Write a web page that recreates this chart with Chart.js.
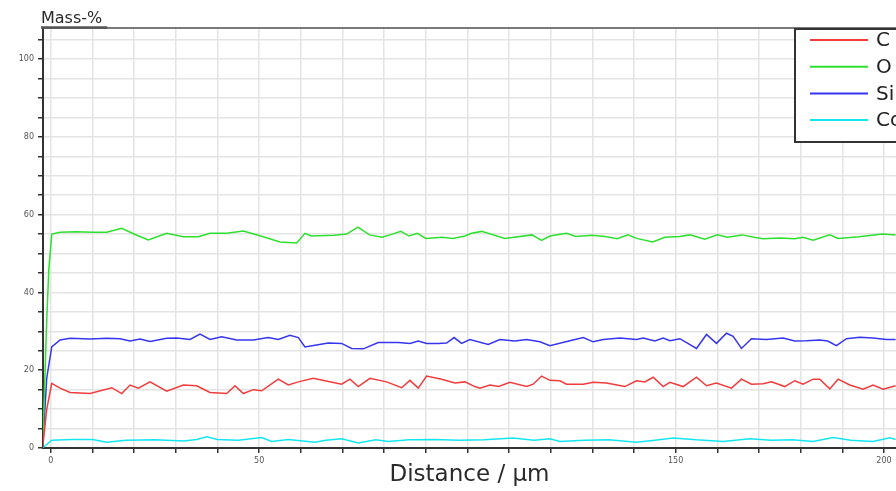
<!DOCTYPE html>
<html><head><meta charset="utf-8">
<script src="https://cdn.jsdelivr.net/npm/chart.js@4/dist/chart.umd.min.js"></script>
<style>html,body{margin:0;padding:0;background:#fff;overflow:hidden}#wrap{width:896px;height:491px}</style>
</head><body><div id="wrap"><canvas id="c" width="896" height="491"></canvas></div>
<script>
// ---- data ----
const seriesNames = ['C', 'O', 'Si', 'Co'];
const seriesColors = ['#f03c3c', '#2ee02e', '#3636ee', '#14e6f0'];
const yAxisTitle = 'Mass-%';
const xAxisTitle = 'Distance / µm';

const cDist = [-2,-1,0.2,2.2,4.6,9.4,14.6,17,19,21,23.8,27.8,31.8,35,38.2,42.2,44.2,46.2,48.6,50.6,54.6,57,59.4,63,65.8,69.8,71.8,73.8,76.6,80.6,84.2,86.2,88.2,90.2,93.8,97,99.4,101.8,103,105.4,107.5,110.2,114.2,115.8,117.8,119.8,122.2,123.8,127.8,130.2,133.4,137.8,140.6,142.6,144.6,147,148.6,151.8,155,157.4,159.8,163.4,165.8,168.2,171,173,176.2,178.6,180.6,183,184.6,187,189,191.8,195,197.4,199.8,202.8];
const cMass = [0,10,16.6,15.4,14.3,14.0,15.5,14.0,16.2,15.4,17.0,14.6,16.2,16.0,14.3,14.0,16.0,14.0,15.0,14.7,17.7,16.2,17.0,17.9,17.3,16.4,17.7,15.8,17.9,17.0,15.5,17.4,15.4,18.5,17.7,16.7,17.0,15.8,15.4,16.2,15.8,16.9,15.8,16.4,18.5,17.4,17.3,16.4,16.4,16.9,16.7,15.8,17.3,17.0,18.2,15.8,16.9,15.8,18.2,16.0,16.7,15.4,17.7,16.4,16.5,17.0,15.8,17.3,16.4,17.7,17.7,15.2,17.7,16.2,15.1,16.2,15.1,16.0];

const oDist = [-2,-1,-0.5,0.2,2.2,6,10,13.4,17,20.6,23.4,27.8,31.8,35.4,38.2,42.2,46.2,49.8,55,59,61,62.5,68,71,73.7,76.5,79.5,82,84,86,88,90,94,96.5,99.4,101,103.4,109,115.5,117.8,119.8,123.8,126,130,133,136,138.5,140.6,144.5,147.4,151,153.4,157,160,162.4,166,168.8,171,175,178.6,180.6,183,187,189,194,199.7,202.8];
const oMass = [0,33,46,55,55.5,55.6,55.5,55.5,56.5,54.7,53.5,55.2,54.3,54.3,55.2,55.2,55.8,54.7,53.0,52.7,55.2,54.5,54.7,55.0,56.8,54.8,54.2,55.0,55.7,54.5,55.2,53.9,54.2,53.9,54.5,55.2,55.7,53.9,54.8,53.4,54.5,55.2,54.4,54.7,54.4,53.8,54.8,53.9,53.0,54.2,54.4,54.8,53.7,54.8,54.2,54.8,54.2,53.8,54.0,53.8,54.2,53.4,54.8,53.9,54.3,55.0,54.8];

const siDist = [-2,-1,0.2,2.2,4.6,9.4,13.4,16.6,19,21.4,23.8,27.8,30.2,33.4,35.8,38.2,41,44.6,48.6,52.2,54.6,57.4,59.4,61,63.4,66.6,69.8,72.2,75,78.6,83.4,86.2,88.2,90.2,93,95,96.8,98.6,100.6,105,107.8,111.4,114.2,117.4,119.8,124.6,127.8,130.2,132.6,136.6,140.6,142.2,145,147,148.6,151,155,157.4,159.8,162.2,163.8,165.8,168.2,171.8,175.8,178.6,181.4,184.6,186.5,188.6,191,194.2,197.4,200.6,202.8];
const siMass = [0,18,26.0,27.8,28.2,28.0,28.2,28.1,27.5,28.0,27.4,28.2,28.3,27.9,29.3,27.9,28.6,27.8,27.8,28.4,27.9,29.0,28.4,26.0,26.4,27.0,26.9,25.6,25.5,27.1,27.1,26.9,27.5,26.9,26.9,27.0,28.4,26.9,27.9,26.6,27.9,27.5,27.9,27.3,26.3,27.6,28.4,27.3,27.9,28.3,27.9,28.3,27.5,28.3,27.6,28.1,25.6,29.2,26.9,29.5,28.7,25.6,28.1,27.9,28.3,27.5,27.6,27.8,27.5,26.3,28.1,28.5,28.3,27.9,27.9];

const coDist = [-2,0.2,5,10,13.4,18,25,31.8,35,37.4,40,45,50.6,53,57,63.4,66,69.8,73.8,78,81,86,92,98,104,111,116,119.8,122.2,128,134,140.6,145,149.4,155,161.4,167.8,173,178,183,187.8,192,197.4,201.4,202.8];
const coMass = [0,2.0,2.2,2.2,1.5,2.0,2.1,1.8,2.2,2.9,2.2,2.0,2.7,1.7,2.2,1.5,2.0,2.4,1.3,2.1,1.7,2.1,2.2,2.0,2.1,2.6,2.0,2.4,1.7,2.0,2.1,1.5,2.0,2.6,2.1,1.7,2.4,2.0,2.1,1.7,2.7,2.0,1.7,2.6,2.2];

const xGridValues = [0,10,20,30,40,50,60,70,80,90,100,110,120,130,140,150,160,170,180,190,200];
const xLabelledTicks = [0,50,150,200];
const yGridValues = [0,5,10,15,20,25,30,35,40,45,50,55,60,65,70,75,80,85,90,95,100,105];
const yLabelledTicks = [0,20,40,60,80,100];

// ---- chart ----
const distArrays = [cDist, oDist, siDist, coDist];
const massArrays = [cMass, oMass, siMass, coMass];
const datasets = seriesNames.map((name, i) => ({
  label: name,
  data: distArrays[i].map((d, k) => ({x: d, y: massArrays[i][k]})),
  borderColor: seriesColors[i],
  backgroundColor: seriesColors[i],
  borderWidth: 1.5,
  pointRadius: 0,
  tension: 0,
  fill: false
}));

const decor = {
  id: 'decor',
  afterDraw(chart) {
    const ctx = chart.ctx, a = chart.chartArea;
    ctx.save();
    ctx.strokeStyle = '#7a7a7a'; ctx.lineWidth = 2;
    ctx.beginPath(); ctx.moveTo(a.left, a.top); ctx.lineTo(a.right, a.top); ctx.stroke();
    ctx.font = '16px "DejaVu Sans"'; ctx.fillStyle = '#2a2a2a'; ctx.textAlign = 'left'; ctx.textBaseline = 'alphabetic';
    ctx.fillText(yAxisTitle, a.left - 2, a.top - 5);
    const tw = ctx.measureText(yAxisTitle).width;
    ctx.strokeStyle = '#555'; ctx.lineWidth = 2.5;
    ctx.beginPath(); ctx.moveTo(a.left - 2, a.top - 0.5); ctx.lineTo(a.left + tw + 3, a.top - 0.5); ctx.stroke();
    const lx = a.right - 101, ly = a.top + 1;
    ctx.fillStyle = '#fff'; ctx.fillRect(lx, ly, 140, 113);
    ctx.strokeStyle = '#333'; ctx.lineWidth = 2; ctx.strokeRect(lx, ly, 140, 113);
    ctx.font = '20px "DejaVu Sans"'; ctx.textBaseline = 'middle';
    chart.data.datasets.forEach((ds, i) => {
      const y = ly + 11 + i * 26.7;
      ctx.strokeStyle = ds.borderColor; ctx.lineWidth = 2;
      ctx.beginPath(); ctx.moveTo(lx + 15, y); ctx.lineTo(lx + 73, y); ctx.stroke();
      ctx.fillStyle = '#222'; ctx.fillText(ds.label, lx + 81, y + 1);
    });
    ctx.restore();
  }
};

new Chart(document.getElementById('c'), {
  type: 'line',
  data: {datasets},
  plugins: [decor],
  options: {
    responsive: false,
    devicePixelRatio: 1,
    animation: false,
    layout: {padding: {top: 28, left: 0, right: 0, bottom: 0}},
    plugins: {legend: {display: false}, tooltip: {enabled: false}},
    scales: {
      x: {
        type: 'linear', min: -1.9, max: 202.9,
        afterBuildTicks: s => { s.ticks = xGridValues.map(v => ({value: v})); },
        afterFit: s => { s.height = 43; },
        grid: {color: '#e4e4e4', lineWidth: 1.5, tickColor: '#333', tickLength: 5},
        border: {color: '#333', width: 2},
        ticks: {
          autoSkip: false, maxRotation: 0, padding: 3,
          color: '#555', font: {family: 'DejaVu Sans', size: 8},
          callback: v => xLabelledTicks.includes(v) ? String(v) : ''
        },
        title: {display: true, text: xAxisTitle, color: '#2a2a2a',
          font: {family: 'DejaVu Sans', size: 23}, padding: {top: 0, bottom: 2}}
      },
      y: {
        type: 'linear', min: 0, max: 108,
        afterBuildTicks: s => { s.ticks = yGridValues.map(v => ({value: v})); },
        afterFit: s => { s.width = 43; },
        grid: {color: '#e4e4e4', lineWidth: 1.5, tickColor: '#333', tickLength: 5},
        border: {color: '#333', width: 2},
        ticks: {
          autoSkip: false, padding: 4,
          color: '#555', font: {family: 'DejaVu Sans', size: 8},
          callback: v => yLabelledTicks.includes(v) ? String(v) : ''
        }
      }
    }
  }
});
</script></body></html>
